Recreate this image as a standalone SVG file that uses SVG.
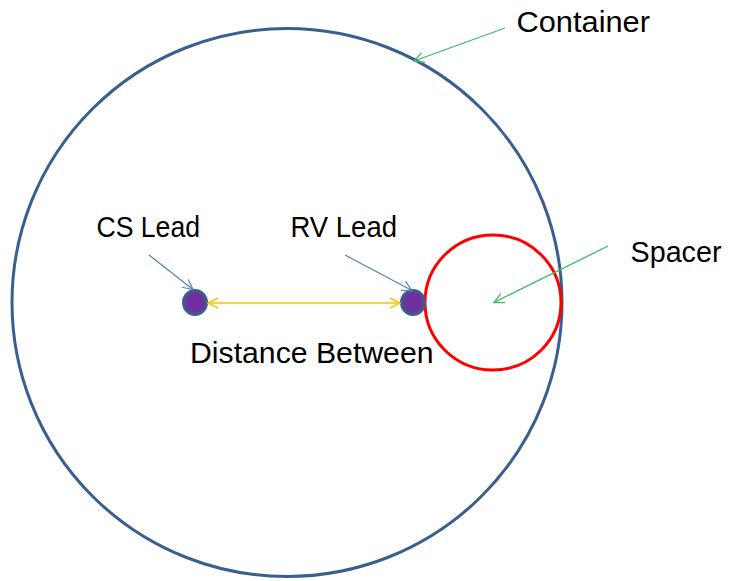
<svg xmlns="http://www.w3.org/2000/svg" width="730" height="581" viewBox="0 0 730 581">
<style>
.lbl{font-family:"Liberation Sans",Arial,sans-serif;font-size:29px;fill:#000}
.blue{stroke:#4F81BD;stroke-width:1.2;fill:none}
.green{stroke:#3CB96A;stroke-width:1.3;fill:none}
.yellow{stroke:#FFC000;stroke-width:1.5;fill:none}
</style>
<defs>
<marker id="ab" markerUnits="userSpaceOnUse" markerWidth="14" markerHeight="14" viewBox="0 0 14 14" refX="12" refY="7" orient="auto"><path d="M2,2 L12,7 L2,12" fill="none" stroke="#4F81BD" stroke-width="1.2"/></marker>
<marker id="ag" markerUnits="userSpaceOnUse" markerWidth="14" markerHeight="14" viewBox="0 0 14 14" refX="12" refY="7" orient="auto"><path d="M2,2 L12,7 L2,12" fill="none" stroke="#3CB96A" stroke-width="1.3"/></marker>
<marker id="ay" markerUnits="userSpaceOnUse" markerWidth="14" markerHeight="14" viewBox="0 0 14 14" refX="12" refY="7" orient="auto-start-reverse"><path d="M2,2 L12,7 L2,12" fill="none" stroke="#FFC000" stroke-width="1.5"/></marker>
</defs>
<g id="container"><ellipse cx="287" cy="302.5" rx="275" ry="274" fill="none" stroke="#3A5F8F" stroke-width="3"/></g>
<g id="spacer"><ellipse cx="493" cy="302.5" rx="68" ry="67.5" fill="none" stroke="#FF0000" stroke-width="3"/></g>
<g id="cs-lead"><ellipse cx="195" cy="302.5" rx="11.5" ry="12" fill="#7030A0" stroke="#3A5F8F" stroke-width="3"/></g>
<g id="rv-lead"><ellipse cx="413" cy="302.5" rx="11.5" ry="12" fill="#7030A0" stroke="#3A5F8F" stroke-width="3"/></g>
<g id="connectors">
<line x1="208" y1="303" x2="400" y2="303" class="yellow" marker-start="url(#ay)" marker-end="url(#ay)"/>
<line x1="149" y1="255" x2="193" y2="289.5" class="blue" marker-end="url(#ab)"/>
<line x1="345" y1="255" x2="412" y2="290.5" class="blue" marker-end="url(#ab)"/>
<line x1="505" y1="28" x2="414" y2="61" class="green" marker-end="url(#ag)"/>
<line x1="608" y1="246" x2="494" y2="302.5" class="green" marker-end="url(#ag)"/>
</g>
<g id="labels">
<text class="lbl" x="516.5" y="31.5" textLength="133.5" lengthAdjust="spacingAndGlyphs">Container</text>
<text class="lbl" x="96.5" y="236.5" textLength="103.5" lengthAdjust="spacingAndGlyphs">CS Lead</text>
<text class="lbl" x="290.5" y="236.5" textLength="106.5" lengthAdjust="spacingAndGlyphs">RV Lead</text>
<text class="lbl" x="630.5" y="261.5" textLength="91" lengthAdjust="spacingAndGlyphs">Spacer</text>
<text class="lbl" x="190" y="363" textLength="243.5" lengthAdjust="spacingAndGlyphs">Distance Between</text>
</g>
</svg>
